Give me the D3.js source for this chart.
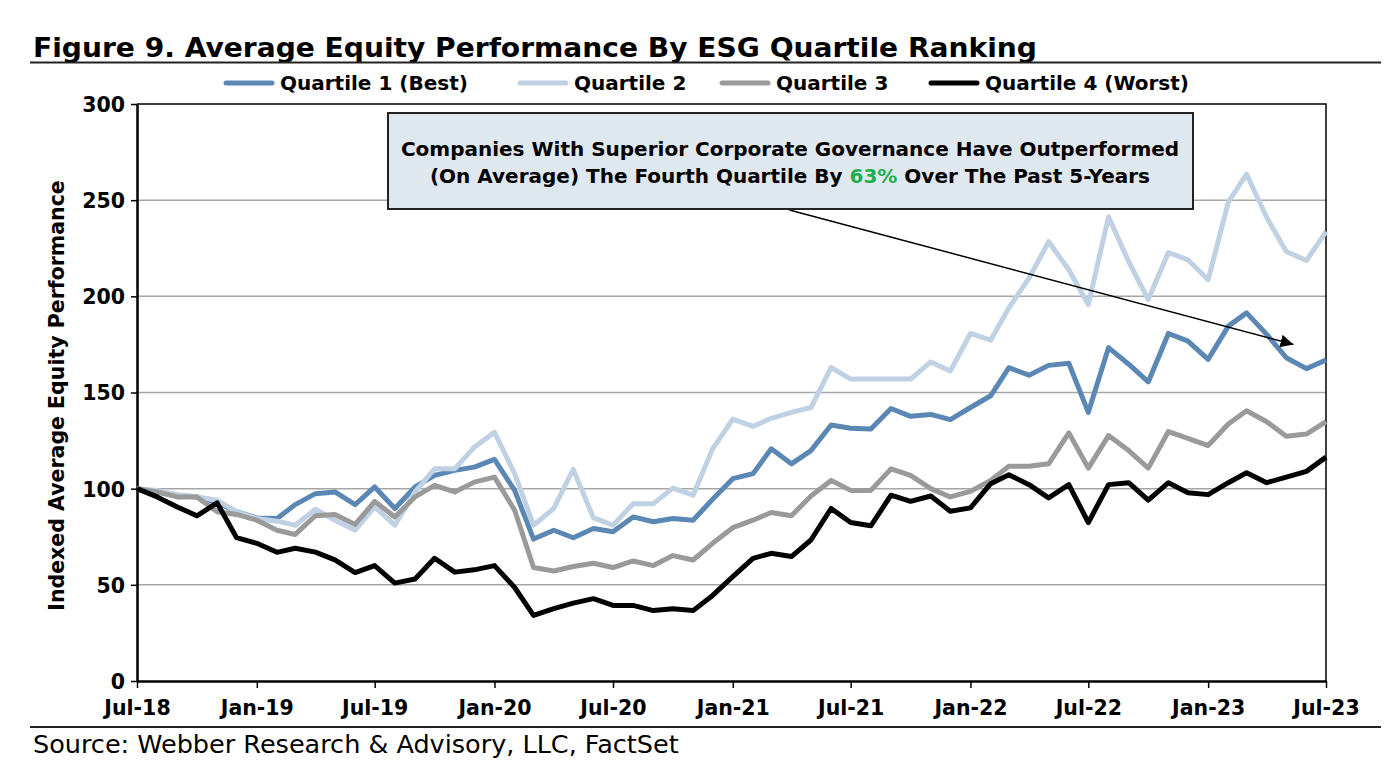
<!DOCTYPE html>
<html lang="en-US">
<head>
    <meta charset="utf-8">
    <title>Figure 9. Average Equity Performance By ESG Quartile Ranking</title>
    <script src="https://cdn.jsdelivr.net/npm/d3@7"></script>
    <style>
        body { margin: 0; background: #fff; }
        svg { display: block; }
        text { font-family: Verdana, 'DejaVu Sans', sans-serif; }
    </style>
</head>
<body>
<svg></svg>
<script>

    // monthly observations, Jul-18 .. Jul-23 (indexed to 100)
    const months = d3.timeMonth.range(new Date(2018, 6, 1), new Date(2023, 7, 1));

    const q1 = [100, 98.3, 96.6, 95.7, 92.8, 88, 84.8, 84.5, 91.7, 97.4, 98.3, 91.7, 100.9, 89.7, 100.9,
        106.9, 109.5, 111.2, 115.2, 99.1, 73.8, 78.4, 74.5, 79.3, 77.6, 85.3, 82.8, 84.5, 83.6, 94.5,
        105.2, 107.8, 120.7, 112.9, 119.8, 133.1, 131.4, 131, 141.7, 137.6, 138.6, 135.9, 142.2, 148.3,
        162.9, 159, 164.1, 165.2, 139.7, 173.3, 164.7, 155.5, 180.7, 176.7, 167.2, 184.5, 191.4, 180.2,
        168.1, 162.4, 166.9];
    const q2 = [100, 99, 96.9, 95.7, 94, 88, 84.5, 83.1, 81, 89.3, 83.6, 78.4, 90.5, 81, 98.3,
        110.3, 110.3, 121.6, 129.3, 107.8, 81, 89.7, 110, 84.8, 81, 92.2, 92.2, 100.3, 96.6, 120.7,
        136.2, 132.4, 136.6, 139.7, 142.2, 163, 157, 157, 157, 157, 165.9, 161.2, 180.7, 177.2,
        194, 209.5, 228.4, 213.8, 195.7, 241.4, 218, 198.3, 222.8, 219, 208.6, 249, 263.5, 241,
        223.3, 218.6, 233.6];
    const q3 = [100, 98.3, 95.7, 95.7, 88, 86.6, 83.6, 78.4, 76.2, 85.9, 86.6, 81.4, 93.4, 85.3, 95.7,
        101.7, 98.3, 103.4, 106, 88.8, 59, 57.2, 59.5, 61.2, 59, 62.4, 60, 65.2, 62.9, 71.6,
        79.7, 83.6, 87.6, 85.9, 96.2, 104.3, 99.1, 99.1, 110.3, 106.9, 100, 95.7, 98.6, 104.3,
        111.7, 111.7, 112.9, 129, 110.7, 127.6, 119.8, 110.7, 129.7, 126.2, 122.4, 133.6, 140.5, 134.8,
        127.2, 128.4, 134.8];
    const q4 = [100, 95.7, 90.5, 85.9, 92.6, 74.5, 71.6, 66.9, 69, 67, 63, 56.4, 60, 50.9, 53,
        63.8, 56.6, 57.8, 60, 48.6, 34.1, 37.6, 40.5, 42.8, 39.3, 39.3, 36.6, 37.6, 36.6, 44.5,
        54.3, 63.8, 66.4, 64.7, 73.3, 89.7, 82.4, 80.7, 96.6, 93.4, 96.2, 88.3, 90, 102.6,
        107.2, 102.1, 95.2, 102.1, 82.4, 102.1, 103.1, 94, 103.1, 97.9, 96.9, 103.1, 108.3, 103.1,
        106, 109, 116.4];

    const seriesNames = ['Quartile 1 (Best)', 'Quartile 2', 'Quartile 3', 'Quartile 4 (Worst)'];
    const seriesColors = ['#5b87b5', '#bfd1e2', '#9a9a9a', '#000000'];
    const yTicks = [0, 50, 100, 150, 200, 250, 300];

    const W = 1397, H = 768;
    const plot = { left: 137, top: 104, right: 1326, bottom: 681 };

    const svg = d3.select('svg').attr('width', W).attr('height', H);

    // title + rules
    svg.append('text')
        .attr('x', 33).attr('y', 57)
        .attr('textLength', 1004).attr('lengthAdjust', 'spacingAndGlyphs')
        .style('font-size', '27px').style('font-weight', 'bold')
        .text('Figure 9. Average Equity Performance By ESG Quartile Ranking');

    svg.append('line').attr('x1', 30).attr('x2', 1381).attr('y1', 62.5).attr('y2', 62.5)
        .attr('stroke', '#222').attr('stroke-width', 2);
    svg.append('line').attr('x1', 30).attr('x2', 1381).attr('y1', 727).attr('y2', 727)
        .attr('stroke', '#222').attr('stroke-width', 2);

    svg.append('text')
        .attr('x', 33).attr('y', 753)
        .style('font-size', '25.5px')
        .text('Source: Webber Research & Advisory, LLC, FactSet');

    // scales
    const x = d3.scaleTime()
        .domain([months[0], months[months.length - 1]])
        .range([plot.left, plot.right]);
    const y = d3.scaleLinear().domain([0, 300]).range([plot.bottom, plot.top]);

    // gridlines
    svg.append('g')
        .selectAll('line')
        .data(yTicks.filter(d => d > 0 && d < 300))
        .join('line')
        .attr('x1', plot.left).attr('x2', plot.right)
        .attr('y1', d => y(d)).attr('y2', d => y(d))
        .attr('stroke', '#a6a6a6').attr('stroke-width', 1.5);

    // frame (top + right)
    svg.append('path')
        .attr('d', `M${plot.left},${plot.top}H${plot.right}V${plot.bottom}`)
        .attr('fill', 'none').attr('stroke', '#000').attr('stroke-width', 1.5);

    // axes
    const xTicks = months.filter((d, i) => i % 6 === 0);
    const xAxis = svg.append('g')
        .attr('transform', `translate(0,${plot.bottom})`)
        .call(d3.axisBottom(x).tickValues(xTicks).tickFormat(d3.timeFormat('%b-%y')).tickSize(7).tickSizeOuter(0));
    const yAxis = svg.append('g')
        .attr('transform', `translate(${plot.left},0)`)
        .call(d3.axisLeft(y).tickValues(yTicks).tickSize(6).tickSizeOuter(0));

    [xAxis, yAxis].forEach(a => {
        a.select('.domain').attr('stroke', '#000').attr('stroke-width', 2.5);
        a.selectAll('.tick line').attr('stroke', '#000').attr('stroke-width', 1.5);
        a.selectAll('text')
            .attr('fill', '#000')
            .style('font-family', "Verdana, 'DejaVu Sans', sans-serif")
            .style('font-size', '20.5px').style('font-weight', 'bold');
    });
    xAxis.selectAll('text').attr('y', 0).attr('dy', '1.65em');
    yAxis.selectAll('text').attr('x', -12).attr('dy', '0.36em');

    svg.append('text')
        .attr('transform', `translate(64,${(plot.top + plot.bottom) / 2 + 3}) rotate(-90)`)
        .attr('text-anchor', 'middle')
        .style('font-size', '20.5px').style('font-weight', 'bold')
        .text('Indexed Average Equity Performance');

    // lines
    const line = d3.line()
        .x((d, i) => x(months[i]))
        .y(d => y(d));

    [q1, q2, q3, q4].forEach((s, k) => {
        svg.append('path')
            .datum(s)
            .attr('d', line)
            .attr('fill', 'none')
            .attr('stroke', seriesColors[k])
            .attr('stroke-width', 5)
            .attr('stroke-linejoin', 'round');
    });

    // legend
    const legendX = [226, 520, 722, 931];
    const legend = svg.append('g');
    seriesNames.forEach((name, k) => {
        legend.append('line')
            .attr('x1', legendX[k]).attr('x2', legendX[k] + 46)
            .attr('y1', 83).attr('y2', 83)
            .attr('stroke', seriesColors[k]).attr('stroke-width', 5).attr('stroke-linecap', 'round');
        legend.append('text')
            .attr('x', legendX[k] + 54).attr('y', 90)
            .style('font-size', '20px').style('font-weight', 'bold')
            .text(name);
    });

    // annotation box + arrow
    svg.append('defs').append('marker')
        .attr('id', 'arrow')
        .attr('viewBox', '0 0 10 10')
        .attr('refX', 10).attr('refY', 5)
        .attr('markerWidth', 13).attr('markerHeight', 13)
        .attr('markerUnits', 'userSpaceOnUse')
        .attr('orient', 'auto')
        .append('path').attr('d', 'M0,0L10,5L0,10Z').attr('fill', '#000');

    const arrowFrom = [months[33], 256], arrowTo = [months[59], 175];
    svg.append('line')
        .attr('x1', x(arrowFrom[0]) - 2).attr('y1', 210)
        .attr('x2', x(arrowTo[0]) - 13).attr('y2', y(arrowTo[1]))
        .attr('stroke', '#000').attr('stroke-width', 1.5)
        .attr('marker-end', 'url(#arrow)');

    svg.append('rect')
        .attr('x', 388).attr('y', 113).attr('width', 805).attr('height', 96)
        .attr('fill', '#dfe7ef').attr('stroke', '#222').attr('stroke-width', 2);

    const note = svg.append('text')
        .attr('text-anchor', 'middle')
        .style('font-size', '20px').style('font-weight', 'bold');
    note.append('tspan').attr('x', 790).attr('y', 156)
        .text('Companies With Superior Corporate Governance Have Outperformed');
    const l2 = note.append('tspan').attr('x', 790).attr('y', 183);
    l2.append('tspan').text('(On Average) The Fourth Quartile By ');
    l2.append('tspan').attr('fill', '#1fae4f').text('63%');
    l2.append('tspan').text(' Over The Past 5-Years');

</script>
</body>
</html>
